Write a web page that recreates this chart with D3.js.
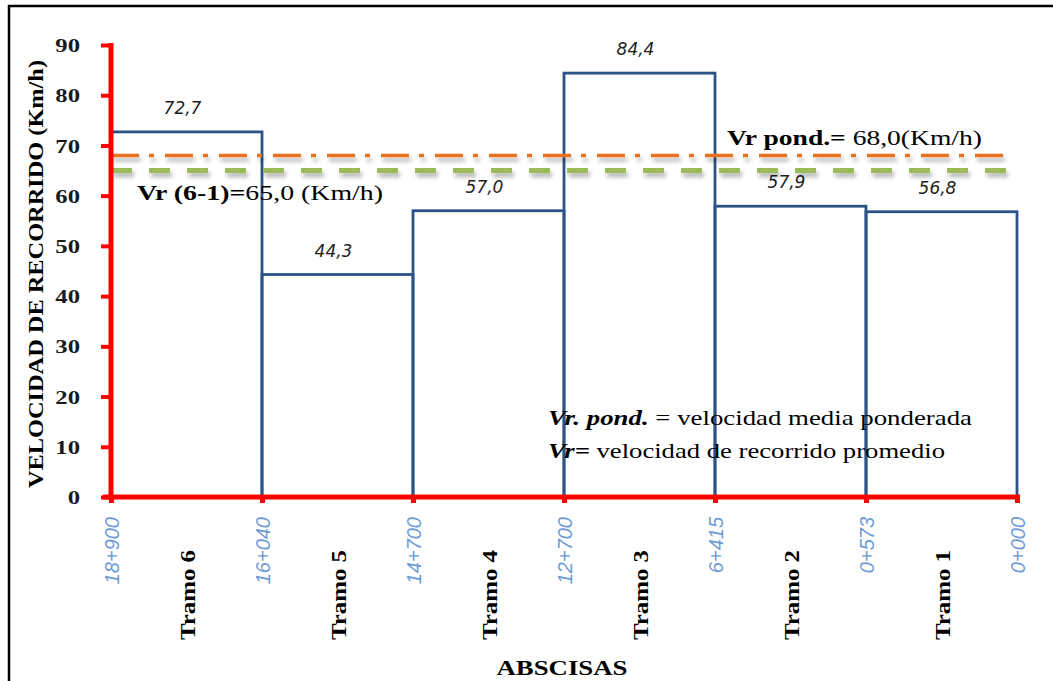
<!DOCTYPE html>
<html><head><meta charset="utf-8">
<script src="https://cdn.jsdelivr.net/npm/d3@7"></script>
<style>body{margin:0;background:#fff;}svg{display:block;}</style>
</head><body>
<svg id="c" width="1053" height="681"></svg>
<script>
const tramos = ["Tramo 6","Tramo 5","Tramo 4","Tramo 3","Tramo 2","Tramo 1"];
const speeds = [72.7, 44.3, 57.0, 84.4, 57.9, 56.8];
const speedLabels = ["72,7","44,3","57,0","84,4","57,9","56,8"];
const abscisas = ["18+900","16+040","14+700","12+700","6+415","0+573","0+000"];
const yTicks = [0,10,20,30,40,50,60,70,80,90];
const vrPond = 68.0;
const vr61 = 65.0;

const serif = "Liberation Serif, Times New Roman, serif";
const svg = d3.select("#c");
const defs = svg.append("defs");
const f = defs.append("filter").attr("id","sh").attr("filterUnits","userSpaceOnUse")
  .attr("x",0).attr("y",0).attr("width",1053).attr("height",681);
f.append("feDropShadow").attr("dx",2).attr("dy",4).attr("stdDeviation",2)
  .attr("flood-color","#000").attr("flood-opacity",0.3);

// stretch helper: widen text along its reading direction
function stretch(sel, k){
  sel.each(function(){
    const len = this.getComputedTextLength();
    d3.select(this).attr("textLength", len*k).attr("lengthAdjust","spacingAndGlyphs");
  });
}
function fitLen(sel, target){
  sel.attr("textLength", target).attr("lengthAdjust","spacingAndGlyphs");
}

// outer frame
svg.append("rect").attr("x",9).attr("y",6).attr("width",1100).attr("height",700)
  .attr("fill","none").attr("stroke","#000").attr("stroke-width",2.5);

const x = d3.scalePoint().domain(abscisas).range([111,1017]);
const y = d3.scaleLinear().domain([0,90]).range([497,45]);

// bars (outlined)
svg.append("g").selectAll("rect").data(tramos).join("rect")
  .attr("x",(d,i)=>x(abscisas[i]))
  .attr("width",(d,i)=>x(abscisas[i+1])-x(abscisas[i]))
  .attr("y",(d,i)=>y(speeds[i]))
  .attr("height",(d,i)=>y(0)-y(speeds[i]))
  .attr("fill","none").attr("stroke","#2c5387").attr("stroke-width",2.8);

// value labels
svg.append("g").selectAll("text").data(tramos).join("text")
  .attr("x",(d,i)=>(x(abscisas[i])+x(abscisas[i+1]))/2-4)
  .attr("y",(d,i)=>y(speeds[i])-18)
  .attr("text-anchor","middle")
  .attr("font-family","DejaVu Sans, Verdana, sans-serif").attr("font-style","italic")
  .attr("font-size",17).attr("fill","#1e1e1e")
  .text((d,i)=>speedLabels[i]);

// reference lines
svg.append("line").attr("x1",111).attr("x2",1019).attr("y1",y(vr61)).attr("y2",y(vr61))
  .attr("stroke","#9bbb59").attr("stroke-width",5).attr("stroke-dasharray","21,17")
  .attr("filter","url(#sh)");
svg.append("line").attr("x1",111).attr("x2",1013).attr("y1",y(vrPond)).attr("y2",y(vrPond))
  .attr("stroke","#e8731e").attr("stroke-width",3.5).attr("stroke-dasharray","28,10,5,11")
  .attr("filter","url(#sh)");

// y axis
const yAxis = d3.axisLeft(y).tickValues(yTicks).tickSize(10).tickSizeOuter(0).tickPadding(21);
const gy = svg.append("g").attr("transform","translate(111,0)").call(yAxis);
gy.select(".domain").attr("stroke","#ff0000").attr("stroke-width",5).attr("d","M0,43V500");
gy.selectAll(".tick line").attr("stroke","#ff0000").attr("stroke-width",4);
gy.selectAll(".tick text").attr("font-family",serif)
  .attr("font-weight","bold").attr("font-size",19).attr("fill","#1a1a1a").attr("dy","0.35em")
  .call(stretch,1.3);

// x axis
const xAxis = d3.axisBottom(x).tickSize(6).tickSizeOuter(0).tickFormat("");
const gx = svg.append("g").attr("transform","translate(0,497)").call(xAxis);
gx.select(".domain").attr("stroke","#ff0000").attr("stroke-width",5).attr("d","M103,0H1020");
gx.selectAll(".tick line").attr("stroke","#ff0000").attr("stroke-width",5).attr("y1",0).attr("y2",6);

// abscisa labels
svg.append("g").selectAll("text").data(abscisas).join("text")
  .attr("transform",d=>`translate(${x(d)+8},517) rotate(-90)`)
  .attr("text-anchor","end")
  .attr("font-family","Liberation Sans, Arial, sans-serif").attr("font-style","italic")
  .attr("font-size",20).attr("fill","#6d9ad6")
  .text(d=>d);

// tramo labels
svg.append("g").selectAll("text").data(tramos).join("text")
  .attr("transform",(d,i)=>`translate(${(x(abscisas[i])+x(abscisas[i+1]))/2+8},550) rotate(-90)`)
  .attr("text-anchor","end")
  .attr("font-family",serif).attr("font-weight","bold")
  .attr("font-size",21).attr("fill","#000")
  .text(d=>d).call(fitLen,90);

// axis titles
svg.append("text").attr("x",562).attr("y",675).attr("text-anchor","middle")
  .attr("font-family",serif).attr("font-weight","bold")
  .attr("font-size",21).attr("fill","#000").text("ABSCISAS").call(fitLen,131);
svg.append("text").attr("transform","translate(43,274) rotate(-90)").attr("text-anchor","middle")
  .attr("font-family",serif).attr("font-weight","bold")
  .attr("font-size",21).attr("fill","#000").text("VELOCIDAD DE RECORRIDO (Km/h)").call(fitLen,428);

// annotations
const t1 = svg.append("text").attr("x",727).attr("y",145).attr("font-family",serif).attr("font-size",20).attr("fill","#000");
t1.append("tspan").attr("font-weight","bold").text("Vr pond.=");
t1.append("tspan").text(" 68,0(Km/h)");
fitLen(t1,255);
const t2 = svg.append("text").attr("x",137).attr("y",200).attr("font-family",serif).attr("font-size",20).attr("fill","#000");
t2.append("tspan").attr("font-weight","bold").text("Vr (6-1)=");
t2.append("tspan").text("65,0 (Km/h)");
fitLen(t2,246);

const l1 = svg.append("text").attr("x",548).attr("y",425).attr("font-family",serif).attr("font-size",21).attr("fill","#000");
l1.append("tspan").attr("font-weight","bold").attr("font-style","italic").text("Vr. pond.");
l1.append("tspan").text(" = velocidad media ponderada");
fitLen(l1,424);
const l2 = svg.append("text").attr("x",548).attr("y",458).attr("font-family",serif).attr("font-size",21).attr("fill","#000");
l2.append("tspan").attr("font-weight","bold").attr("font-style","italic").text("Vr=");
l2.append("tspan").text(" velocidad de recorrido promedio");
fitLen(l2,397);
</script>
</body></html>
